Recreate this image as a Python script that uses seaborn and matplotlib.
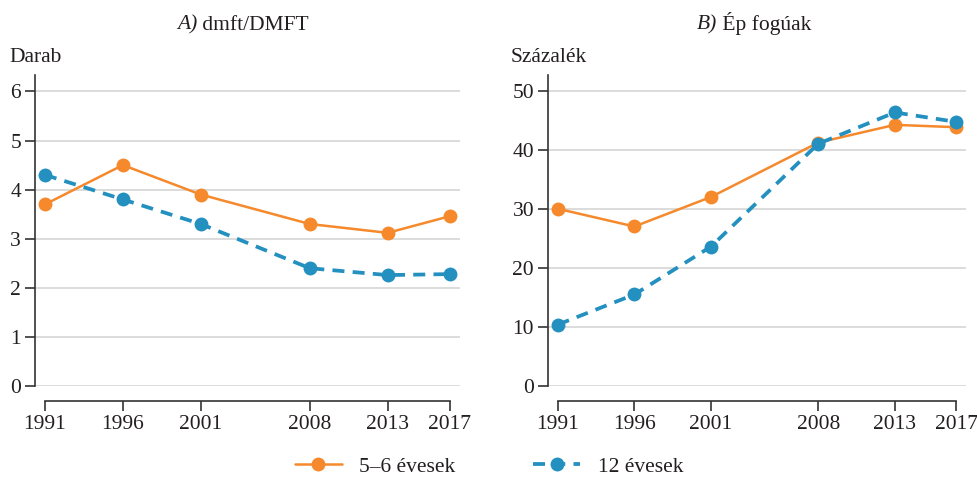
import matplotlib
matplotlib.use('Agg')
import matplotlib.pyplot as plt
import seaborn as sns
import pandas as pd

# data
years = [1991, 1996, 2001, 2008, 2013, 2017]
dmft_56 = [3.7, 4.5, 3.9, 3.3, 3.12, 3.46]
dmft_12 = [4.3, 3.8, 3.3, 2.4, 2.26, 2.28]
ep_56 = [30.0, 27.0, 32.0, 41.2, 44.2, 43.8]
ep_12 = [10.4, 15.5, 23.6, 41.0, 46.3, 44.7]
labels = ["5–6 évesek", "12 évesek"]
titles = [("A)", " dmft/DMFT"), ("B)", " Ép fogúak")]
units = ["Darab", "Százalék"]

ORANGE = "#F5892C"
BLUE = "#2390C0"
TEXT = "#231f20"
GRID = "#d9d9d9"
SPINE = "#333333"
FS = 15.5

sns.set_theme(style="white")
plt.rcParams['font.family'] = ['Liberation Serif', 'DejaVu Serif']
plt.rcParams['text.color'] = TEXT
plt.rcParams['axes.labelcolor'] = TEXT
plt.rcParams['xtick.color'] = TEXT
plt.rcParams['ytick.color'] = TEXT

fig = plt.figure(figsize=(9.78, 4.82), dpi=100)
ax_a = fig.add_axes([0.0358, 0.199, 0.4345, 0.645])
ax_b = fig.add_axes([0.5603, 0.199, 0.4274, 0.645])


def draw_panel(ax, v56, v12, ymax, ystep, ytop):
    df = pd.DataFrame({"year": years + years,
                       "value": v56 + v12,
                       "group": [labels[0]] * len(years) + [labels[1]] * len(years)})
    sns.lineplot(data=df[df.group == labels[0]], x="year", y="value", ax=ax,
                 color=ORANGE, marker="o", markersize=10, markeredgewidth=0,
                 linewidth=1.8, label=labels[0], zorder=3)
    sns.lineplot(data=df[df.group == labels[1]], x="year", y="value", ax=ax,
                 color=BLUE, marker="o", markersize=10, markeredgewidth=0,
                 linewidth=2.7, label=labels[1], zorder=4,
                 dashes=False, linestyle=(0, (3.2, 2.2)))
    ax.set_xlim(1990.36, 2017.64)
    ax.set_ylim(0, ytop)
    yt = list(range(0, ymax + 1, ystep))
    ax.set_yticks(yt)
    ax.set_xticks(years)
    ax.set_xticklabels([str(y) for y in years])
    for y in yt:
        ax.axhline(y, color=GRID, linewidth=1.3, zorder=1)
    ax.set_xlabel("")
    ax.set_ylabel("")
    for s in ["top", "right"]:
        ax.spines[s].set_visible(False)
    ax.spines["left"].set_color(SPINE)
    ax.spines["bottom"].set_color(SPINE)
    ax.spines["left"].set_linewidth(1.2)
    ax.spines["bottom"].set_linewidth(1.2)
    ax.spines["bottom"].set_bounds(years[0], years[-1])
    ax.spines["bottom"].set_position(("outward", 11))
    ax.tick_params(axis="both", which="both", direction="out", length=7,
                   width=1.2, color=SPINE, labelsize=FS, left=True, bottom=True)
    ax.tick_params(axis="y", pad=3)
    ax.tick_params(axis="x", pad=3)
    ax.legend_.remove()


draw_panel(ax_a, dmft_56, dmft_12, 6, 1, 6.33)
draw_panel(ax_b, ep_56, ep_12, 50, 10, 52.6)

# titles with italic panel letter
fig.canvas.draw()
for (letter, rest), x0 in zip(titles, [0.181, 0.712]):
    t1 = fig.text(x0, 0.938, letter, fontsize=FS, style="italic", va="baseline")
    fig.canvas.draw()
    bb = t1.get_window_extent()
    fig.text(bb.x1 / fig.bbox.width, 0.938, rest, fontsize=FS, va="baseline")

fig.text(0.010, 0.872, units[0], fontsize=FS, va="baseline")
fig.text(0.522, 0.872, units[1], fontsize=FS, va="baseline")

handles, lbls = ax_a.get_legend_handles_labels()
fig.legend(handles, lbls, loc="center", bbox_to_anchor=(0.5, 0.032), ncol=2,
           frameon=False, fontsize=FS, handlelength=2.2, columnspacing=3.6,
           handletextpad=0.8)

fig.savefig("out.png", dpi=100)
